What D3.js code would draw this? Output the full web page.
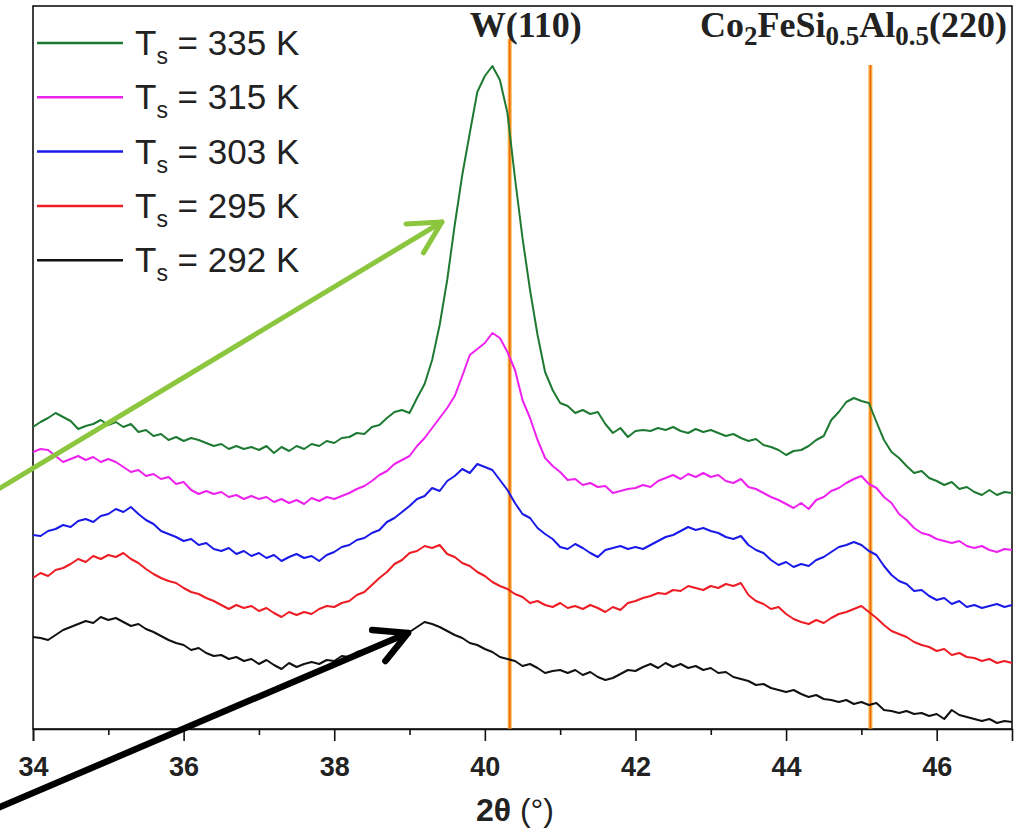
<!DOCTYPE html>
<html>
<head lang="en">
  <meta charset="UTF-8">
  <title>XRD patterns, Co2FeSi0.5Al0.5 on W</title>
</head>
<style>
  body { margin: 0; background: #fff; }
  #chart text { font-family: Arial, "Liberation Sans", sans-serif; fill: #222; white-space: pre; }
  #chart .tick text { font-size: 27px; font-weight: bold; fill: #222; }
  #chart .tick line, #chart .domain { stroke: #111; stroke-width: 1.6; }
  #chart .peak-label { font-family: "Liberation Serif", "Times New Roman", serif; font-weight: bold; font-size: 36px; }
  #chart .trace { fill: none; stroke-width: 2; stroke-linejoin: round; }
</style>
<body>

<svg id="chart" width="1021" height="830"></svg>

<script src="https://cdn.jsdelivr.net/npm/d3@7/dist/d3.min.js"></script>
<script>
  // scan: 2theta from 34 to 47 deg, step 0.1 deg
  var scanStart = 34;
  var scanStep = 0.1;

  // intensities (a.u., curves already offset as plotted)
  var i335 = [302,307,311,316,312,308,300,303,305,309,304,307,302,305,297,299,293,295,289,292,
    288,291,289,286,283,285,280,283,280,282,279,283,276,282,278,283,280,285,283,288,
    286,291,292,296,295,302,304,311,317,319,316,331,345,369,404,449,504,554,596,637,
    653,663,649,616,551,491,439,394,357,339,326,323,316,319,315,317,305,296,301,292,
    298,299,298,301,299,302,298,296,300,297,299,296,293,295,291,288,290,284,282,279,
    274,278,279,283,289,293,309,317,327,331,328,326,307,289,277,271,263,256,258,251,
    248,244,247,240,242,237,234,239,234,237,236];
  var i315 = [277,280,279,273,267,270,273,269,272,267,270,267,262,257,259,253,255,250,252,245,
    247,239,235,238,235,237,232,234,230,233,230,232,227,230,226,229,225,231,228,232,
    230,233,236,240,243,248,254,258,265,269,273,283,291,301,311,321,333,353,374,380,
    386,396,391,377,359,329,311,289,271,263,257,249,250,244,246,242,243,236,238,240,
    241,244,242,248,251,254,250,255,252,256,252,254,248,246,250,242,240,236,232,229,
    225,221,226,220,229,232,238,241,246,250,253,245,241,232,226,215,209,201,196,194,
    190,188,186,188,183,181,183,179,177,180,179];
  var i303 = [194,193,198,200,204,202,208,210,207,213,215,220,217,222,215,209,205,198,195,192,
    188,190,184,186,180,178,181,175,178,173,176,171,174,168,172,175,171,173,168,174,
    177,182,184,189,191,196,199,207,211,217,223,230,233,241,238,248,253,260,256,265,
    262,259,249,239,226,215,211,201,195,190,182,180,185,181,176,172,179,181,183,180,
    182,180,184,188,192,194,198,202,199,201,198,196,192,190,193,184,179,176,169,164,
    167,162,165,163,169,172,177,182,184,187,184,178,174,163,154,148,145,138,139,133,
    129,131,125,128,122,124,121,123,125,122,124];
  var i295 = [151,156,153,159,161,165,170,167,173,170,174,172,176,170,166,160,155,151,148,146,
    141,137,135,131,128,124,120,124,121,123,118,121,116,112,117,114,117,115,120,123,
    122,126,128,134,137,144,151,157,165,169,176,178,183,181,184,175,172,166,163,157,
    153,147,143,140,135,132,126,128,124,122,126,121,123,120,124,121,117,122,119,126,
    128,131,133,136,135,139,138,143,141,139,143,141,145,143,146,134,128,125,120,122,
    115,110,107,105,109,106,111,115,117,120,123,117,111,104,98,95,92,87,84,82,
    78,80,74,76,72,71,68,70,66,68,66];
  var i292 = [92,91,89,94,99,102,105,108,106,112,109,111,107,103,105,100,97,93,89,86,
    84,79,81,76,73,74,70,72,68,70,65,69,64,60,66,62,65,67,65,69,
    68,73,72,77,79,82,84,88,91,94,97,102,107,105,102,98,94,91,86,84,
    80,77,72,70,68,63,65,61,56,58,59,56,59,54,57,52,49,51,55,59,
    58,62,65,61,66,62,65,61,63,59,61,56,57,52,50,48,44,45,41,39,
    37,39,35,32,34,30,29,27,29,25,27,24,26,19,18,16,18,15,16,13,
    15,10,19,14,12,10,8,10,6,8,7];

  var seriesNames = ['335', '315', '303', '295', '292'];
  var seriesValues = [i335, i315, i303, i295, i292];
  var seriesColors = ['#1e7a32', '#ee22ee', '#1a1ae8', '#ee1c24', '#111111'];

  var majorTicks = [34, 36, 38, 40, 42, 44, 46];
  var minorTicks = [35, 37, 39, 41, 43, 45];

  // reference peak positions (2theta)
  var refPeaks = [
    { name: 'W', pos: 40.33, top: 690 },
    { name: 'CFSA', pos: 45.12, top: 664 }
  ];

  // arrows: from / to in (2theta, intensity)
  var arrows = [
    { from: [33.5, 238], to: [39.43, 507], color: '#8cc63f', width: 5 },
    { from: [33.5, -80], to: [38.98, 96], color: '#000000', width: 6.5 }
  ];

  var margin = { top: 6, right: 9, bottom: 101, left: 33 };
  var W = 1021, H = 830;
  var innerW = W - margin.left - margin.right;
  var innerH = H - margin.top - margin.bottom;

  var svg = d3.select('#chart');
  var x = d3.scaleLinear().domain([34, 47]).range([margin.left, W - margin.right]);
  var y = d3.scaleLinear().domain([0, 723]).range([H - margin.bottom, margin.top]);

  // frame
  svg.append('rect')
    .attr('x', margin.left).attr('y', margin.top)
    .attr('width', innerW).attr('height', innerH)
    .attr('fill', 'none').attr('stroke', '#111').attr('stroke-width', 1.6);

  // reference lines
  refPeaks.forEach(function(p) {
    svg.append('line')
      .attr('x1', x(p.pos)).attr('x2', x(p.pos))
      .attr('y1', y(p.top)).attr('y2', y(0))
      .attr('stroke', '#f8b040').attr('stroke-width', 4);
    svg.append('line')
      .attr('x1', x(p.pos)).attr('x2', x(p.pos))
      .attr('y1', y(p.top)).attr('y2', y(0))
      .attr('stroke', '#ec6a10').attr('stroke-width', 1.5);
  });

  // traces
  var line = d3.line()
    .x(function(d, i) { return x(scanStart + i * scanStep); })
    .y(function(d) { return y(d); });

  svg.append('clipPath').attr('id', 'clip')
    .append('rect')
    .attr('x', margin.left).attr('y', margin.top)
    .attr('width', innerW).attr('height', innerH);

  svg.append('g').attr('clip-path', 'url(#clip)')
    .selectAll('path')
    .data(seriesValues)
    .enter()
      .append('path')
      .attr('class', 'trace')
      .attr('stroke', function(d, i) { return seriesColors[i]; })
      .attr('d', line);

  // x axis
  svg.append('g')
    .attr('transform', 'translate(0,' + y(0) + ')')
    .call(d3.axisBottom(x).tickValues(majorTicks).tickSize(12).tickPadding(16).tickFormat(d3.format('d')));
  svg.append('g')
    .attr('transform', 'translate(0,' + y(0) + ')')
    .call(d3.axisBottom(x).tickValues(minorTicks).tickSize(6).tickFormat(''))
    .select('.domain').remove();

  var xt = svg.append('text')
    .attr('x', x(40.4)).attr('y', 821)
    .attr('text-anchor', 'middle')
    .style('font-size', '32px');
  xt.append('tspan').style('font-weight', 'bold').text('2\u03B8');
  xt.append('tspan').text(' (\u00B0)');

  // peak labels
  svg.append('text')
    .attr('class', 'peak-label')
    .attr('x', x(refPeaks[0].pos) + 16).attr('y', 37)
    .attr('text-anchor', 'middle')
    .text('W(110)');

  var co = svg.append('text')
    .attr('class', 'peak-label')
    .attr('x', x(47) - 5).attr('y', 37)
    .attr('text-anchor', 'end');
  [['Co', 0], ['2', 1], ['FeSi', 0], ['0.5', 1], ['Al', 0], ['0.5', 1], ['(220)', 0]].forEach(function(part, k, arr) {
    var prevSub = k > 0 && arr[k - 1][1];
    var dy = part[1] ? 8 : (prevSub ? -8 : 0);
    co.append('tspan')
      .attr('dy', dy)
      .style('font-size', part[1] ? '27px' : '36px')
      .text(part[0]);
  });

  // legend
  var legend = svg.append('g')
    .selectAll('g')
    .data(seriesNames)
    .enter()
      .append('g')
      .attr('transform', function(d, i) { return 'translate(37,' + (43 + i * 54.3) + ')'; });

  legend.append('line')
    .attr('x1', 0).attr('x2', 86)
    .attr('stroke', function(d, i) { return seriesColors[i]; })
    .attr('stroke-width', 2.5);

  var lt = legend.append('text')
    .attr('x', 98).attr('y', 12)
    .style('font-size', '35px');
  lt.append('tspan').text('T');
  lt.append('tspan').attr('dy', 9).style('font-size', '23px').text('s');
  lt.append('tspan').attr('dy', -9).text(function(d) { return ' = ' + d + ' K'; });

  // arrows
  arrows.forEach(function(a) {
    var x0 = x(a.from[0]), y0 = y(a.from[1]);
    var x1 = x(a.to[0]), y1 = y(a.to[1]);
    var ang = Math.atan2(y0 - y1, x0 - x1);
    var len = 36, spread = 28 * Math.PI / 180;
    var g = svg.append('g')
      .attr('stroke', a.color).attr('stroke-width', a.width)
      .attr('stroke-linecap', 'round').attr('fill', 'none');
    g.append('line').attr('x1', x0).attr('y1', y0).attr('x2', x1).attr('y2', y1);
    g.append('path')
      .attr('stroke-linejoin', 'round')
      .attr('d', 'M' + (x1 + len * Math.cos(ang + spread)) + ',' + (y1 + len * Math.sin(ang + spread)) +
        'L' + x1 + ',' + y1 +
        'L' + (x1 + len * Math.cos(ang - spread)) + ',' + (y1 + len * Math.sin(ang - spread)));
  });
</script>
</body>
</html>
